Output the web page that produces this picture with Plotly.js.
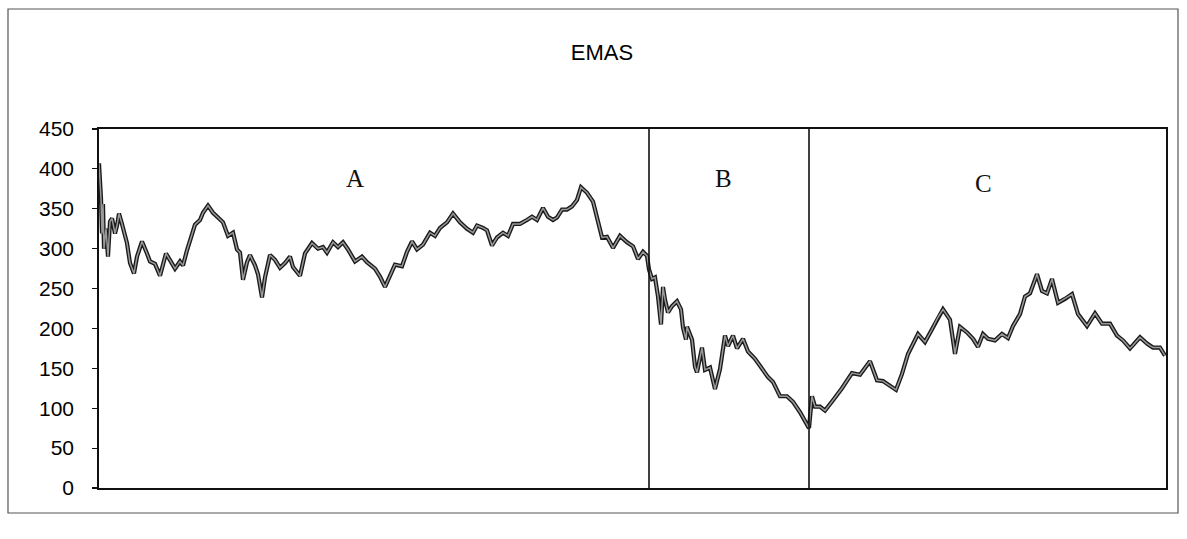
<!DOCTYPE html>
<html>
<head>
<meta charset="utf-8">
<script src="https://cdn.plot.ly/plotly-3.0.1.min.js"></script>
<style>
  html, body { margin: 0; padding: 0; background: #fff; }
  #chart { width: 1187px; height: 539px; }
</style>
</head>
<body>
<div id="chart"></div>
<script>
// Trading-day index (horizontal position along the series)
const day = [0,1,2,3,4,5,7,9,11,13,16,18,20,23,28,31,35,38,43,48,51,56,61,67,71,76,81,84,88,91,96,101,104,109,114,119,124,129,134,138,141,144,148,151,156,159,163,166,171,176,181,186,191,194,201,206,213,219,224,228,234,239,244,249,256,263,268,276,281,286,291,296,303,308,313,318,324,331,336,341,348,354,361,368,374,378,384,388,393,398,404,409,414,421,428,433,438,444,449,454,458,463,468,473,478,482,488,494,499,503,508,514,521,528,534,539,544,548,550,553,556,559,562,564,566,569,573,578,582,584,587,588,593,596,598,603,606,611,616,621,626,629,634,638,644,649,656,663,669,674,681,688,694,701,706,710,713,716,721,726,734,743,753,761,771,778,784,791,797,803,809,819,826,833,839,844,851,856,861,868,874,879,884,889,896,903,909,914,921,926,931,938,943,948,953,959,966,973,979,988,996,1003,1011,1018,1024,1031,1034,1041,1048,1054,1061,1066];

// EMAS index level
const emas = [407,388,363,319,356,300,325,290,334,338,319,329,344,331,307,282,269,290,309,294,284,281,266,294,285,275,284,279,298,311,330,336,345,354,345,339,333,316,320,299,295,261,283,292,279,268,239,264,292,286,276,282,290,277,266,294,307,300,302,295,308,302,308,299,284,290,283,275,265,252,266,280,278,296,309,299,305,320,316,326,333,344,333,325,320,329,326,323,304,314,320,316,331,331,336,340,336,351,340,336,339,349,349,353,361,377,370,359,334,314,315,301,316,308,303,287,296,291,274,262,264,240,205,252,236,220,228,234,224,201,186,202,186,152,145,176,148,151,124,149,191,178,191,175,187,171,162,149,139,133,115,115,108,95,84,75,115,102,102,97,110,125,144,142,159,135,134,128,123,143,168,193,183,199,214,224,211,168,202,195,187,177,193,187,185,193,188,203,218,240,244,268,247,244,262,232,237,243,218,203,219,206,206,191,185,175,179,189,181,176,176,166];

// Period boundaries (day index) and period labels
const periodBounds = [550, 710];
const periodLabels = ['A', 'B', 'C'];
const labelDays = [256, 624, 884];
const labelLevels = [388, 388, 382];

const yTicks = [0,50,100,150,200,250,300,350,400,450];

const traces = [
  { x: day, y: emas, type: 'scatter', mode: 'lines',
    line: { color: '#1a1a1a', width: 4.2 }, hoverinfo: 'skip', showlegend: false },
  { x: day, y: emas, type: 'scatter', mode: 'lines',
    line: { color: '#999', width: 1.5 }, hoverinfo: 'skip', showlegend: false }
];

const L = 99, R = 1166, T = 129, B = 488;
const pw = R - L, ph = B - T;
const px = v => (v - L) / pw;
const py = v => (B - v) / ph;

const shapes = periodBounds.map(d => ({
  type: 'line', xref: 'x', yref: 'paper', x0: d, x1: d, y0: 0, y1: 1,
  line: { color: '#111', width: 1.6 }
}));
shapes.push({
  type: 'rect', xref: 'paper', yref: 'paper',
  x0: px(8), x1: px(1178), y0: py(513), y1: py(9),
  line: { color: '#555', width: 1.2 }, fillcolor: 'rgba(0,0,0,0)', layer: 'below'
});

const annotations = periodLabels.map((t, i) => ({
  x: labelDays[i], y: labelLevels[i], xref: 'x', yref: 'y', text: t,
  showarrow: false, font: { family: 'Liberation Serif, Times New Roman, serif', size: 25, color: '#111' }
}));

const layout = {
  width: 1187, height: 539,
  margin: { l: L, r: 1187 - R, t: T, b: 539 - B, pad: 0 },
  paper_bgcolor: '#fff', plot_bgcolor: '#fff',
  title: { text: 'EMAS', x: 602 / 1187, xanchor: 'center', y: 1 - 52 / 539, yanchor: 'middle',
           font: { family: 'Liberation Sans, Arial, sans-serif', size: 22, color: '#000' } },
  xaxis: { range: [0, 1067], showticklabels: false, ticks: '', showgrid: false, zeroline: false,
           showline: true, linecolor: '#111', linewidth: 1.6, mirror: true },
  yaxis: { range: [0, 450], tickvals: yTicks, ticktext: yTicks.map(String), ticks: 'outside', ticklen: 5,
           tickcolor: '#111', tickwidth: 1.2, ticklabelstandoff: 14, showgrid: false, zeroline: false,
           showline: true, linecolor: '#111', linewidth: 1.8, mirror: true,
           tickfont: { family: 'Liberation Sans, Arial, sans-serif', size: 21, color: '#000' } },
  shapes: shapes,
  annotations: annotations,
  showlegend: false
};

Plotly.newPlot('chart', traces, layout, { displayModeBar: false, staticPlot: true });
</script>
</body>
</html>
